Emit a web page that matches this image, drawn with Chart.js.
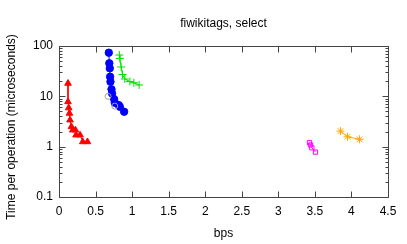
<!DOCTYPE html>
<html>
<head>
<meta charset="utf-8">
<script src="https://cdn.jsdelivr.net/npm/chart.js@4/dist/chart.umd.min.js"></script>
<style>
html,body{margin:0;padding:0;background:#fff;}
#c{display:block;}
</style>
</head>
<body>
<canvas id="c" width="407" height="244"></canvas>
<script>
// ---- data ----
const redX   = [0.123, 0.123, 0.133, 0.143, 0.151, 0.17, 0.188, 0.225, 0.233, 0.288, 0.325, 0.389];
const redY   = [18.1, 7.8, 5.9, 4.59, 3.38, 2.49, 2.14, 2.14, 1.70, 1.70, 1.25, 1.25];
const blueX  = [0.681, 0.688, 0.695, 0.699, 0.704, 0.718, 0.726, 0.754, 0.763, 0.818, 0.832, 0.891];
const blueY  = [73.6, 45.3, 36.0, 24.5, 19.5, 13.8, 11.4, 8.8, 7.45, 6.7, 6.2, 4.94];
const grayX  = [0.671, 0.763];
const grayY  = [10.0, 6.4];
const greenX = [0.825, 0.832, 0.85, 0.869, 0.9, 0.969, 1.024, 1.096];
const greenY = [66.2, 56.4, 38.3, 27.1, 22.1, 19.7, 18.6, 16.8];
const magX   = [3.426, 3.44, 3.458, 3.508];
const magY   = [1.20, 1.08, 0.95, 0.78];
const orgX   = [3.85, 3.946, 4.111];
const orgY   = [2.04, 1.57, 1.40];
const xTicks = [0, 0.5, 1, 1.5, 2, 2.5, 3, 3.5, 4, 4.5];
const yTicks = [0.1, 1, 10, 100];
const titleText = 'fiwikitags, select';
const xTitle = 'bps';
const yTitle = 'Time per operation (microseconds)';

const FONT = 'Liberation Sans, Arial, Helvetica, sans-serif';
function pts(xs, ys){ return xs.map((x,i)=>({x:x, y:ys[i]})); }
function ds(xs, ys, color, style, radius, filled, lineColor){
  return {
    data: pts(xs, ys), showLine: true,
    borderColor: lineColor || color, borderWidth: 1,
    pointStyle: style, pointRadius: radius,
    pointBorderColor: color, pointBackgroundColor: filled ? color : 'rgba(0,0,0,0)',
    pointBorderWidth: 1
  };
}

const tickPlugin = {
  id: 'gnuTicks',
  beforeDatasetsDraw(chart){
    const ctx = chart.ctx, a = chart.chartArea;
    const xs = chart.scales.x, ys = chart.scales.y;
    ctx.save();
    ctx.strokeStyle = '#444';
    ctx.lineWidth = 1;
    ctx.beginPath();
    const L = Math.round(a.left)+0.5, R = Math.round(a.right)+0.5;
    const T = Math.round(a.top)+0.5, B = Math.round(a.bottom)+0.5;
    ctx.rect(L, T, R-L, B-T);
    xTicks.forEach(v=>{
      const p = Math.round(xs.getPixelForValue(v))+0.5;
      ctx.moveTo(p, B); ctx.lineTo(p, B-6);
      ctx.moveTo(p, T); ctx.lineTo(p, T+6);
    });
    for (let e = -1; e <= 2; e++){
      for (let k = 1; k <= 9; k++){
        const v = k*Math.pow(10, e);
        if (v > 100.0001) break;
        const p = Math.round(ys.getPixelForValue(v))+0.5;
        const len = (k===1) ? 6 : 3;
        ctx.moveTo(L, p); ctx.lineTo(L+len, p);
        ctx.moveTo(R, p); ctx.lineTo(R-len, p);
      }
    }
    ctx.stroke();
    // y axis title (centred a bit lower than the plot, as in the reference)
    ctx.fillStyle = '#000';
    ctx.font = '12px ' + FONT;
    ctx.textAlign = 'center';
    ctx.textBaseline = 'middle';
    ctx.translate(11.7, 127);
    ctx.rotate(-Math.PI/2);
    ctx.fillText(yTitle, 0, 0);
    ctx.restore();
  }
};

new Chart(document.getElementById('c'), {
  type: 'scatter',
  data: {
    datasets: [
      ds(redX, redY, '#ff0000', 'triangle', 3.8, true),
      ds(grayX, grayY, '#a0a0a0', 'circle', 3, false, 'rgba(0,0,0,0)'),
      ds(blueX, blueY, '#0000ff', 'circle', 3.7, true),
      ds(greenX, greenY, '#00e000', 'cross', 4, false),
      ds(magX, magY, '#ff00ff', 'rect', 3, false),
      ds(orgX, orgY, '#ffa500', 'star', 4, false)
    ]
  },
  options: {
    responsive: false, animation: false, devicePixelRatio: 1,
    layout: { padding: { left: 0, right: 19, top: 0, bottom: 0 } },
    plugins: {
      legend: { display: false }, tooltip: { enabled: false },
      title: { display: true, text: titleText, fullSize: false, color: '#000',
        font: { family: FONT, size: 12, weight: 'normal' },
        padding: { top: 16.1, bottom: 15.5 } }
    },
    scales: {
      x: {
        type: 'linear', min: 0, max: 4.5,
        grid: { display: false, drawTicks: false, tickLength: 0 }, border: { display: false },
        afterBuildTicks(s){ s.ticks = xTicks.map(v=>({value:v})); },
        ticks: { color: '#000', padding: 7.5, maxRotation: 0, autoSkip: false,
          font: { family: FONT, size: 12 },
          callback: v => String(v) },
        title: { display: true, text: xTitle, color: '#000',
          font: { family: FONT, size: 12 }, padding: { top: 0, bottom: 3.5 } },
        afterFit(s){ s.height = 47; }
      },
      y: {
        type: 'logarithmic', min: 0.1, max: 100,
        grid: { display: false, drawTicks: false, tickLength: 0 }, border: { display: false },
        afterBuildTicks(s){ s.ticks = yTicks.map(v=>({value:v, major:true})); },
        ticks: { color: '#000', padding: 6, autoSkip: false,
          font: { family: FONT, size: 12 },
          callback: v => String(v) },
        afterFit(s){ s.width = 59; }
      }
    }
  },
  plugins: [tickPlugin]
});
</script>
</body>
</html>
